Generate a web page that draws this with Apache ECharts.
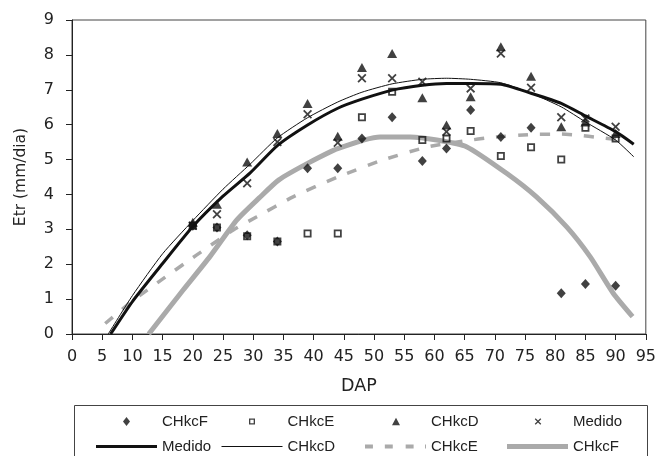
<!DOCTYPE html>
<html>
<head>
<meta charset="utf-8">
<script src="https://cdn.jsdelivr.net/npm/echarts@6/dist/echarts.min.js"></script>
<style>
html,body{margin:0;padding:0;background:#fff;}
#chart{width:659px;height:456px;}
</style>
</head>
<body>
<div id="chart"></div>
<script>
// Observed points (DAP)
var dap = [20, 24, 29, 34, 39, 44, 48, 53, 58, 62, 66, 71, 76, 81, 85, 90];
var ptCHkcF = [3.1, 3.05, 2.83, 2.65, 4.75, 4.75, 5.6, 6.21, 4.96, 5.32, 6.42, 5.65, 5.91, 1.17, 1.43, 1.38];
var ptCHkcE = [3.1, 3.05, 2.8, 2.65, 2.88, 2.88, 6.21, 6.94, 5.56, 5.6, 5.82, 5.1, 5.35, 5.0, 5.91, 5.6];
var ptCHkcD = [3.2, 3.72, 4.93, 5.75, 6.61, 5.67, 7.64, 8.04, 6.77, 5.99, 6.8, 8.23, 7.39, 5.94, 6.08, 5.75];
var ptMedido = [3.1, 3.43, 4.32, 5.5, 6.3, 5.48, 7.33, 7.33, 7.23, 5.8, 7.04, 8.04, 7.06, 6.21, 6.18, 5.94];

// Curves
var lnMedidoX = [6.4, 10, 15, 20, 25, 29.5, 34, 39, 44, 48, 53, 58, 62, 66, 71, 76, 81, 85, 90, 93];
var lnMedidoY = [0, 0.93, 2.02, 3.08, 3.95, 4.62, 5.4, 5.99, 6.47, 6.73, 6.99, 7.13, 7.18, 7.18, 7.16, 6.9, 6.61, 6.25, 5.8, 5.44];
var lnCHkcDX = [6, 10, 15, 20, 25, 29.5, 34, 39, 44, 48, 53, 58, 62, 66, 71, 76, 81, 85, 90, 93];
var lnCHkcDY = [0, 1.1, 2.3, 3.25, 4.15, 4.87, 5.62, 6.2, 6.65, 6.93, 7.17, 7.3, 7.33, 7.3, 7.2, 6.9, 6.51, 6.08, 5.56, 5.08];
var lnCHkcEX = [5.5, 10, 14.8, 20.6, 26.7, 30.6, 36.6, 44, 51.5, 59, 65.3, 69.2, 76.1, 81.1, 83.6, 87.4, 91];
var lnCHkcEY = [0.3, 0.95, 1.55, 2.26, 2.98, 3.36, 3.93, 4.5, 4.99, 5.37, 5.54, 5.63, 5.72, 5.73, 5.7, 5.63, 5.56];
var lnCHkcFX = [12.7, 18.4, 22.8, 27.3, 31, 34.2, 39, 44.1, 51, 56, 60.4, 65.3, 72, 76.9, 81.9, 85.8, 89.6, 92.8];
var lnCHkcFY = [0, 1.26, 2.21, 3.27, 3.9, 4.41, 4.89, 5.32, 5.65, 5.65, 5.56, 5.37, 4.6, 3.93, 3.07, 2.21, 1.17, 0.5];

var xTicks = {min: 0, max: 95, interval: 5};
var yTicks = {min: 0, max: 9, interval: 1};

function zip(xs, ys) { return xs.map(function (x, i) { return [x, ys[i]]; }); }

var FONT = 'Liberation Sans';
var AXFONT = 'DejaVu Sans';
var crossPath = 'path://M0,1.4 L1.4,0 L5,3.6 L8.6,0 L10,1.4 L6.4,5 L10,8.6 L8.6,10 L5,6.4 L1.4,10 L0,8.6 L3.6,5 Z';
var diamondPath = 'path://M4,0 L8,5 L4,10 L0,5 Z';
var squarePath = 'path://M0,0 H10 V10 H0 Z M2.2,2.2 V7.8 H7.8 V2.2 Z';
var trianglePath = 'path://M5,0 L10,9 L0,9 Z';
var thickPath = 'path://M0,0 H61 V3 H0 Z';
var thinPath = 'path://M0,0 H61 V1 H0 Z';
var dashPath = 'path://M0,0 H8 V4 H0 Z M20,0 H28 V4 H20 Z M41,0 H49 V4 H41 Z M60.5,0 H61.5 V4 H60.5 Z';
var grayPath = 'path://M0,0 H62 V5 H0 Z';

var chart = echarts.init(document.getElementById('chart'), null, {renderer: 'canvas'});

// line-sample legends (row 2)
function legendLine(name, icon, left, top, ih, color) {
  return {
    data: [{name: name, icon: icon}], left: left, top: top, orient: 'horizontal',
    itemWidth: 61, itemHeight: ih, itemGap: 0, padding: 0, symbolKeepAspect: true,
    itemStyle: {color: color, borderWidth: 0},
    textStyle: {fontFamily: FONT, fontSize: 15, color: '#222'},
    selectedMode: false
  };
}
// marker legends (row 1): icon centred at cx, text starting at tx
function legendMark(name, icon, cx, tx, top, iw, ih) {
  var left = cx - iw / 2;
  var pad = tx - (left + iw + 5);
  return {
    data: [{name: name, icon: icon}], left: left, top: top, orient: 'horizontal',
    itemWidth: iw, itemHeight: ih, itemGap: 0, padding: 0, symbolKeepAspect: false,
    itemStyle: {color: '#111', borderWidth: 0},
    formatter: '{s|}{n|' + name + '}',
    textStyle: {fontFamily: FONT, fontSize: 15, color: '#222',
      rich: {s: {width: pad, height: 10}, n: {fontFamily: FONT, fontSize: 15, color: '#222'}}},
    selectedMode: false
  };
}

var legends = [
  legendMark('CHkcF', diamondPath, 126.5, 162, 414, 7, 9),
  legendMark('CHkcE', squarePath, 252, 287.5, 414, 6, 6),
  legendMark('CHkcD', trianglePath, 396, 431, 414, 8, 7.5),
  legendMark('Medido', crossPath, 538, 573, 414, 6.5, 6.5),
  legendLine('Medido ', thickPath, 96, 439, 3, '#111'),
  legendLine('CHkcD ', thinPath, 221.5, 439, 1, '#111'),
  legendLine('CHkcE ', dashPath, 365, 439, 4, '#aaaaaa'),
  legendLine('CHkcF ', grayPath, 507, 439, 5, '#aaaaaa')
];

var option = {
  backgroundColor: '#fff',
  animation: false,
  textStyle: {fontFamily: FONT},
  grid: {left: 72, right: 13, top: 20, bottom: 122, show: true, borderColor: '#444', borderWidth: 1, backgroundColor: 'transparent'},
  legend: legends,
  graphic: [{
    type: 'rect', left: 72, top: 403, shape: {x: 0, y: 0, width: 573, height: 60},
    style: {fill: 'none', stroke: '#444', lineWidth: 1}, z: -1
  }],
  xAxis: {
    type: 'value', min: xTicks.min, max: xTicks.max, interval: xTicks.interval,
    name: 'DAP', nameLocation: 'middle', nameGap: 43,
    nameTextStyle: {fontFamily: AXFONT, fontSize: 17.5, color: '#222'},
    axisLine: {show: true, onZero: false, lineStyle: {color: '#222', width: 1}},
    axisTick: {show: true, inside: false, length: 6, lineStyle: {color: '#222'}},
    axisLabel: {fontFamily: AXFONT, fontSize: 16, color: '#222', margin: 15},
    splitLine: {show: false}
  },
  yAxis: {
    type: 'value', min: yTicks.min, max: yTicks.max, interval: yTicks.interval,
    name: 'Etr (mm/dia)', nameLocation: 'middle', nameGap: 43,
    nameTextStyle: {fontFamily: AXFONT, fontSize: 15.5, color: '#222'},
    axisLine: {show: true, onZero: false, lineStyle: {color: '#222', width: 1}},
    axisTick: {show: true, inside: false, length: 6, lineStyle: {color: '#222'}},
    axisLabel: {fontFamily: AXFONT, fontSize: 16, color: '#222', margin: 18},
    splitLine: {show: false}
  },
  series: [
    {name: 'CHkcF ', type: 'line', data: zip(lnCHkcFX, lnCHkcFY), showSymbol: false, symbol: 'none', smooth: 0.2,
     lineStyle: {color: '#aaaaaa', width: 5}, itemStyle: {color: '#aaaaaa', borderWidth: 0}, z: 2},
    {name: 'CHkcE ', type: 'line', data: zip(lnCHkcEX, lnCHkcEY), showSymbol: false, symbol: 'none', smooth: 0.2,
     lineStyle: {color: '#aaaaaa', width: 3.5, type: [10, 12]}, itemStyle: {color: '#aaaaaa', borderWidth: 0}, z: 2},
    {name: 'CHkcD ', type: 'line', data: zip(lnCHkcDX, lnCHkcDY), showSymbol: false, symbol: 'none', smooth: 0.2,
     lineStyle: {color: '#111', width: 1}, itemStyle: {color: '#111', borderWidth: 0}, z: 3},
    {name: 'Medido ', type: 'line', data: zip(lnMedidoX, lnMedidoY), showSymbol: false, symbol: 'none', smooth: 0.2,
     lineStyle: {color: '#111', width: 3}, itemStyle: {color: '#111', borderWidth: 0}, z: 3},
    {name: 'CHkcF', type: 'scatter', data: zip(dap, ptCHkcF), symbol: 'diamond', symbolSize: [9, 10],
     itemStyle: {color: '#111'}, z: 4},
    {name: 'CHkcE', type: 'scatter', data: zip(dap, ptCHkcE), symbol: squarePath, symbolSize: 8,
     itemStyle: {color: '#111'}, z: 4},
    {name: 'CHkcD', type: 'scatter', data: zip(dap, ptCHkcD), symbol: 'triangle', symbolSize: [10, 9],
     itemStyle: {color: '#111'}, z: 4},
    {name: 'Medido', type: 'scatter', data: zip(dap, ptMedido), symbol: crossPath, symbolSize: 9,
     itemStyle: {color: '#111'}, z: 4}
  ]
};
chart.setOption(option);
</script>
</body>
</html>
